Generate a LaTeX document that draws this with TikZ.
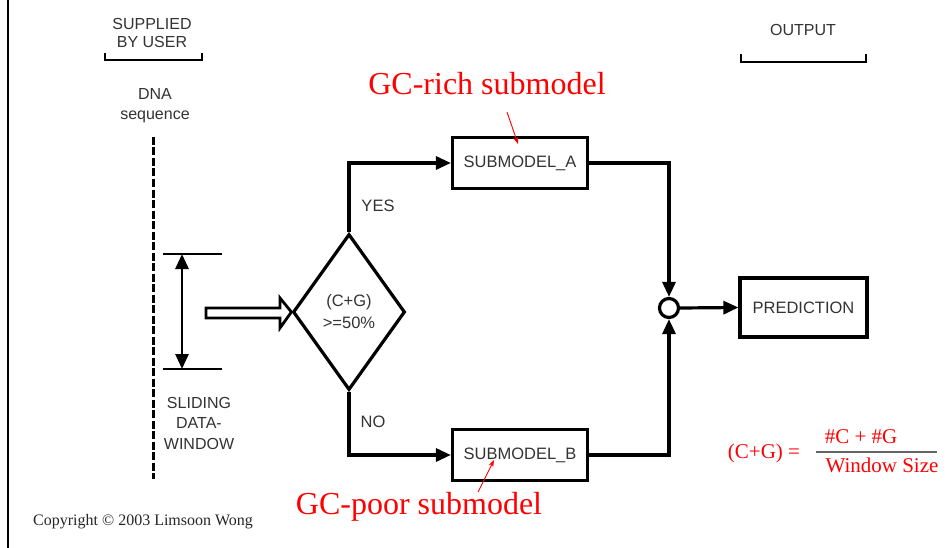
\documentclass[tikz,border=0pt]{standalone}
\usepackage{fontspec}
\setmainfont{Liberation Serif}
\setsansfont{Liberation Sans}
\usetikzlibrary{arrows.meta,shapes.geometric}
\definecolor{txtgray}{HTML}{333333}
\tikzset{
  lbl/.style={font=\sffamily\fontsize{16.5}{20}\selectfont, text=txtgray, align=center, inner sep=0pt},
  redlbl/.style={font=\rmfamily\fontsize{32}{36}\selectfont, text=red, inner sep=0pt},
  boxnode/.style={draw=black, line width=3.2pt, minimum width=135pt, minimum height=51pt, inner sep=0pt, font=\sffamily\fontsize{16.5}{20}\selectfont, text=txtgray},
  conn/.style={line width=3.2pt, draw=black},
  tip/.tip={Triangle[length=15pt,width=13pt]},
  redarrow/.style={draw=red, line width=0.9pt, -{Stealth[length=7pt,width=5pt]}},
}
\begin{document}
\begin{tikzpicture}[x=1pt,y=-1pt]
\useasboundingbox (0,0) rectangle (952,548);
\fill[white] (0,0) rectangle (952,548);
% left border line
\draw[line width=2.4pt] (8,0) -- (8,548);

% supplied by user
\node[lbl, font=\sffamily\fontsize{16}{18}\selectfont] (sup) at (152,33) {SUPPLIED\\BY USER};
\coordinate (supL) at (105,60);
\coordinate (supR) at (202,60);
\draw[line width=2.6pt] ([yshift=7pt]supL) -- (supL) -- (supR) -- ([yshift=7pt]supR);
\node[lbl, font=\sffamily\fontsize{16}{20}\selectfont] (dna) at (155,106) {DNA\\sequence};

% dashed sequence line
\coordinate (seqT) at (153,137);
\coordinate (seqB) at (153,479);
\draw[line width=3pt, dash pattern=on 8pt off 2.5pt] (seqT) -- (seqB);

% sliding window
\coordinate (wT1) at (163,254); \coordinate (wT2) at (222,254);
\coordinate (wB1) at (163,369); \coordinate (wB2) at (222,369);
\draw[line width=2.6pt] (wT1) -- (wT2);
\draw[line width=2.6pt] (wB1) -- (wB2);
\coordinate (dTop) at (182,254);
\coordinate (dBot) at (182,369);
\draw[line width=2.8pt, {Triangle[length=15pt,width=13pt]}-{Triangle[length=15pt,width=13pt]}] (dTop) -- (dBot);
\node[lbl, font=\sffamily\fontsize{16}{20.5}\selectfont] (slide) at (199,423) {SLIDING\\DATA-\\WINDOW};

% decision diamond
\node[diamond, draw=black, line width=3.2pt, minimum width=112pt, minimum height=156pt, inner sep=0pt, font=\sffamily\fontsize{16.5}{22}\selectfont, text=txtgray, align=center] (dia) at (349,312) {(C+G)\\>=50\%};

% hollow arrow into diamond
\coordinate (hTip) at (dia.west);
\draw[line width=2.8pt, fill=white, line join=miter]
  (206,308) -- (280,308) -- (280,298) -- (hTip) -- (280,328) -- (280,318) -- (206,318) -- cycle;

% submodels
\node[boxnode] (subA) at (520,163) {SUBMODEL\_A};
\node[boxnode] (subB) at (520,455) {SUBMODEL\_B};
\node[lbl] (yes) at (378,206) {YES};
\node[lbl] (no) at (373,422) {NO};

% merge circle and prediction
\node[circle, draw=black, line width=3.2pt, fill=white, minimum size=19pt, inner sep=0pt] (circ) at (669,308) {};
\node[boxnode, minimum width=127pt, minimum height=59pt] (pred) at (803.5,307.5) {PREDICTION};

% connectors
\draw[conn, -tip] (dia.north) |- (subA.west);
\draw[conn, -tip] (dia.south) |- (subB.west);
\draw[conn, -tip] (subA.east) -| (circ.north);
\draw[conn, -tip] (subB.east) -| (circ.south);
\draw[conn, -tip] (circ.east) -- (pred.west);

% output
\node[lbl, font=\sffamily\fontsize{16}{18}\selectfont] (out) at (803,30) {OUTPUT};
\coordinate (outL) at (741,62);
\coordinate (outR) at (866,62);
\draw[line width=2.6pt] ([yshift=8pt]outL) -- (outL) -- (outR) -- ([yshift=8pt]outR);

% red annotations
\node[redlbl] (rich) at (487,84) {GC-rich submodel};
\node[redlbl] (poor) at (419,507) {GC-poor submodel};
\coordinate (richS) at (507,112);
\coordinate (richE) at (518,144);
\draw[redarrow] (richS) -- (richE);
\coordinate (poorS) at (478,492);
\coordinate (poorE) at (494,460);
\draw[redarrow] (poorS) -- (poorE);

% formula
\node[font=\rmfamily\fontsize{21}{24}\selectfont, text=red, inner sep=0pt] (lhs) at (764,453) {(C+G) =};
\node[font=\rmfamily\fontsize{21}{24}\selectfont, text=red, inner sep=0pt] (num) at (861,437) {\#C + \#G};
\node[font=\rmfamily\fontsize{21}{24}\selectfont, text=red, inner sep=0pt] (den) at (882,465) {Window Size};
\coordinate (fracL) at (816,452);
\coordinate (fracR) at (937,452);
\draw[line width=1.4pt, draw=black!60] (fracL) -- (fracR);

% copyright
\node[font=\rmfamily\fontsize{16}{18}\selectfont, text=black!85, inner sep=0pt, anchor=west] (copy) at (33,522) {Copyright © 2003 Limsoon Wong};
\end{tikzpicture}
\end{document}
